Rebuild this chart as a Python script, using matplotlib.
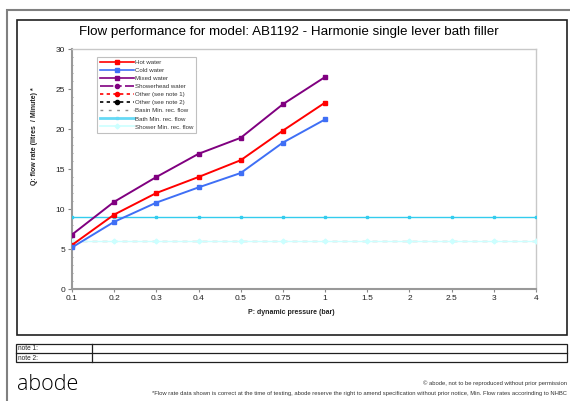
import matplotlib
matplotlib.use("Agg")
import matplotlib.pyplot as plt
from matplotlib.patches import Rectangle
from matplotlib.lines import Line2D

plt.rcParams['font.family'] = ['Liberation Sans', 'DejaVu Sans']

# ---- data ----
pressures = ["0.1", "0.2", "0.3", "0.4", "0.5", "0.75", "1", "1.5", "2", "2.5", "3", "4"]
hot_water = [5.5, 9.3, 12.0, 14.0, 16.1, 19.8, 23.3]
cold_water = [5.2, 8.4, 10.8, 12.7, 14.5, 18.3, 21.2]
mixed_water = [6.8, 10.9, 14.0, 16.9, 18.9, 23.1, 26.5]
basin_min = [6] * 12
bath_min = [9] * 12
shower_min = [6] * 12
legend_labels = ["Hot water", "Cold water", "Mixed water", "Showerhead water",
                 "Other (see note 1)", "Other (see note 2)", "Basin Min. rec. flow",
                 "Bath Min. rec. flow", "Shower Min. rec. flow"]

W, H = 570, 401
fig = plt.figure(figsize=(W / 100, H / 100), dpi=100)

def fx(px):
    return px / W

def fy(py):
    return 1 - py / H

def frect(x0, y0, x1, y1, **kw):
    r = Rectangle((fx(x0), fy(y1)), fx(x1) - fx(x0), fy(y0) - fy(y1),
                  transform=fig.transFigure, fill=False, **kw)
    fig.patches.append(r)

# outer border (extends past the canvas)
frect(7, 10, 580, 410, edgecolor="#808080", linewidth=1.5)
# inner chart frame
frect(17, 20, 567, 335, edgecolor="#202020", linewidth=1.2)

# plot area
L, T, R, B = 72, 49, 536, 289
ax = fig.add_axes([fx(L), fy(B), fx(R) - fx(L), fy(T) - fy(B)])
x = list(range(len(pressures)))

ax.plot(x[:len(hot_water)], hot_water, color="#FF0000", marker="s", markersize=3.5, lw=1.4, zorder=5)
ax.plot(x[:len(cold_water)], cold_water, color="#3F6FF5", marker="s", markersize=3.5, lw=1.4, zorder=5)
ax.plot(x[:len(mixed_water)], mixed_water, color="#800080", marker="s", markersize=3.5, lw=1.4, zorder=5)
ax.plot(x, shower_min, color="#CCFFFF", marker="D", markersize=2.5, lw=1.0, zorder=3)
ax.plot(x, basin_min, color="#8C8C8C", lw=0.9, ls=(0, (4, 4)), zorder=2)
ax.plot(x, bath_min, color="#33CCEE", marker="s", markersize=2, lw=1.0, zorder=3)

ax.set_xlim(0, len(pressures) - 1)
ax.set_ylim(0, 30)
ax.set_xticks(x)
ax.set_xticklabels(pressures)
ax.set_yticks(range(0, 31, 5))
ax.set_yticks(range(0, 31, 1), minor=True)
ax.tick_params(axis="both", which="major", labelsize=6, colors="#888888", labelcolor="#222222", length=3, width=0.8, pad=2)
ax.tick_params(axis="y", which="minor", length=2, colors="#888888", width=0.6, direction="inout")
ax.tick_params(axis="x", which="major", direction="out", length=2)
for s in ["left", "bottom"]:
    ax.spines[s].set_color("#999999")
    ax.spines[s].set_linewidth(1.5)
for s in ["top", "right"]:
    ax.spines[s].set_color("#C8C8C8")
    ax.spines[s].set_linewidth(1.0)

# legend
handles = [
    Line2D([], [], color="#FF0000", marker="s", markersize=3, lw=1.2),
    Line2D([], [], color="#3F6FF5", marker="s", markersize=3, lw=1.2),
    Line2D([], [], color="#800080", marker="s", markersize=3, lw=1.2),
    Line2D([], [], color="#800080", marker="o", markersize=3, lw=1.2, ls=(0, (8, 2, 3, 2))),
    Line2D([], [], color="#FF0000", marker="o", markersize=3, lw=1.2, ls=(0, (2, 2))),
    Line2D([], [], color="#000000", marker="o", markersize=3, lw=1.2, ls=(0, (2, 2))),
    Line2D([], [], color="#8C8C8C", lw=1.0, ls=(0, (2, 4))),
    Line2D([], [], color="#66D9F5", marker="s", markersize=2, lw=2.0),
    Line2D([], [], color="#CCFFFF", marker="D", markersize=2.5, lw=1.2),
]
leg = ax.legend(handles, legend_labels, loc="upper left",
                bbox_to_anchor=((97 - L) / (R - L), 1 - (57 - T) / (B - T)),
                fontsize=4.4, frameon=True, fancybox=False, edgecolor="#C0C0C0",
                handlelength=5.5, handletextpad=0.2, labelspacing=0.45,
                borderpad=0.5, borderaxespad=0, framealpha=1)
leg.get_frame().set_linewidth(0.8)
for t in leg.get_texts():
    t.set_color("#333333")

# titles and labels
fig.text(fx(289), fy(32), "Flow performance for model: AB1192 - Harmonie single lever bath filler",
         ha="center", va="center", fontsize=9.6, color="#000000")
fig.text(fx(35), fy(136), "Q: flow rate (litres  / Minute) *", rotation=90,
         ha="center", va="center", fontsize=5, fontweight="bold", color="#222222")
fig.text(fx(291), fy(313), "P: dynamic pressure (bar)", ha="center", va="center",
         fontsize=5, fontweight="bold", color="#222222")

# notes table
frect(16, 344, 567, 362, edgecolor="#202020", linewidth=0.9)
fig.add_artist(Line2D([fx(16), fx(567)], [fy(353.3), fy(353.3)], color="#202020", lw=0.9,
                      transform=fig.transFigure))
fig.add_artist(Line2D([fx(92), fx(92)], [fy(344), fy(362)], color="#202020", lw=0.9,
                      transform=fig.transFigure))
fig.text(fx(18), fy(349), "note 1:", ha="left", va="center", fontsize=4.7, color="#222222")
fig.text(fx(18), fy(358), "note 2:", ha="left", va="center", fontsize=4.7, color="#222222")

# footer
fig.text(fx(17), fy(384), "abode", ha="left", va="center", fontsize=15.5, fontfamily="Open Sans",
         fontweight=300, color="#000000")
fig.text(fx(567), fy(383), "© abode, not to be reproduced without prior permission",
         ha="right", va="center", fontsize=4.2, color="#333333")
fig.text(fx(567), fy(394), "*Flow rate data shown is correct at the time of testing, abode reserve the right to amend specification without prior notice, Min. Flow rates accorinding to NHBC",
         ha="right", va="center", fontsize=4.2, color="#333333")

fig.savefig("out.png", dpi=100)
